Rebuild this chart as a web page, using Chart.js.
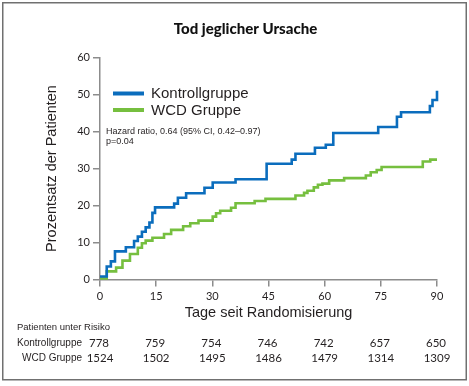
<!DOCTYPE html>
<html>
<head>
<meta charset="utf-8">
<script src="https://cdn.jsdelivr.net/npm/chart.js@4/dist/chart.umd.min.js"></script>
<style>
  html, body { margin: 0; padding: 0; background: #fff; }
</style>
</head>
<body>
<canvas id="kmChart" width="469" height="386"></canvas>
<script>
// Kaplan-Meier steps: day of the step, value after it (%)
const kontrollTage = [0, 1.8, 2.9, 4, 6.9, 9.1, 10.1, 11.2, 12.2, 13.2, 14, 14.7, 19.8, 20.8, 23, 27.9, 30.1, 36.2, 44.5, 51.2, 52.2, 57.4, 60.3, 62.3, 74.3, 79.3, 80.4, 88.1, 88.8, 90];
const kontrollWerte = [0.8, 3.5, 4.9, 7.6, 8.7, 10.4, 11.6, 12.9, 14.1, 15.4, 18, 19.5, 20.5, 22.1, 23.3, 24.8, 26.2, 27.1, 31.3, 32.4, 34, 35.6, 36.4, 39.6, 41.2, 44, 45.2, 46.9, 48.5, 51];
const wcdTage = [0, 1.8, 4.3, 6, 8, 10.1, 11.2, 12.2, 14, 17.1, 19, 22.2, 24.1, 26.3, 30.1, 31, 32.1, 35, 36.2, 41.3, 44.2, 52.2, 54.5, 55.4, 57.1, 58.2, 59.4, 61.2, 65.2, 71, 72.3, 73.9, 75.2, 86.2, 88.2, 90];
const wcdWerte = [0.3, 2.2, 3.2, 5.1, 6.9, 8.6, 9.8, 10.5, 11.3, 12.3, 13.4, 14.4, 15.2, 15.9, 17, 17.9, 18.6, 19.4, 20.6, 21.2, 21.8, 22.7, 23.4, 24, 24.9, 25.6, 25.9, 26.8, 27.4, 28.1, 29, 29.6, 30.4, 31.9, 32.4, 32.4];

const gruppen = ['Kontrollgruppe', 'WCD Gruppe'];
const farben = ['#0b6dbd', '#76bf3f'];
const risikoTage = [0, 15, 30, 45, 60, 75, 90];
const risikoKontroll = [778, 759, 754, 746, 742, 657, 650];
const risikoWcd = [1524, 1502, 1495, 1486, 1479, 1314, 1309];

const txt = '#231f20';
const axisGray = '#8c8c8c';

function toPoints(tage, werte){
  let pts = [];
  for (let i=0;i<tage.length;i++) pts.push({x: tage[i], y: werte[i]});
  return pts;
}

// everything outside the axes: frame, title, legend, HR text, risk table
const extras = {
  id: 'extras',
  afterDraw(chart){
    const ctx = chart.ctx;
    const xs = chart.scales.x;
    ctx.save();
    ctx.strokeStyle = '#707070';
    ctx.lineWidth = 1.5;
    ctx.strokeRect(2.75, 2.75, 463.5, 377);

    ctx.fillStyle = '#111';
    ctx.textAlign = 'center';
    ctx.textBaseline = 'middle';
    ctx.font = '900 15px Lato';
    ctx.fillText('Tod jeglicher Ursache', 245.5, 29);

    // legend
    const ly = [93.5, 110];
    for (let i=0;i<gruppen.length;i++){
      ctx.strokeStyle = farben[i];
      ctx.lineWidth = 4;
      ctx.beginPath();
      ctx.moveTo(113, ly[i]);
      ctx.lineTo(144, ly[i]);
      ctx.stroke();
      ctx.fillStyle = txt;
      ctx.textAlign = 'left';
      ctx.font = '15px "Liberation Sans"';
      ctx.fillText(gruppen[i], 151, ly[i] + 0.5);
    }
    ctx.font = '9px "Liberation Sans"';
    ctx.fillText('Hazard ratio, 0.64 (95% CI, 0.42\u20130.97)', 106, 132);
    ctx.fillText('p=0.04', 106, 141.5);

    // patients at risk
    ctx.font = '9.5px "Liberation Sans"';
    ctx.fillText('Patienten unter Risiko', 17, 327);
    ctx.textAlign = 'right';
    ctx.font = '10px "Liberation Sans"';
    ctx.fillText(gruppen[0], 82, 343.5);
    ctx.fillText(gruppen[1], 82, 358.5);
    ctx.textAlign = 'center';
    ctx.font = '11.5px Lato';
    for (let i=0;i<risikoTage.length;i++){
      let px = xs.getPixelForValue(risikoTage[i]);
      ctx.fillText(String(risikoKontroll[i]), px - 1, 343.5);
      ctx.fillText(String(risikoWcd[i]), px, 358.5);
    }
    ctx.restore();
  }
};

new Chart('kmChart', {
  type: 'line',
  data: {
    datasets: [
      {label: gruppen[0], data: toPoints(kontrollTage, kontrollWerte), borderColor: farben[0], borderWidth: 2.6, stepped: 'before', pointRadius: 0, fill: false, clip: false, order: 1},
      {label: gruppen[1], data: toPoints(wcdTage, wcdWerte), borderColor: farben[1], borderWidth: 2.6, stepped: 'before', pointRadius: 0, fill: false, clip: false, order: 2}
    ]
  },
  options: {
    responsive: false,
    animation: false,
    layout: {padding: {left: 0, right: 32, top: 57.5, bottom: 64}},
    plugins: {legend: {display: false}, tooltip: {enabled: false}, title: {display: false}},
    scales: {
      x: {
        type: 'linear', min: 0, max: 90,
        ticks: {stepSize: 15, autoSkip: false, maxRotation: 0, padding: 3, color: txt, font: {family: 'Lato', size: 11}},
        grid: {drawOnChartArea: false, drawTicks: true, tickLength: 7, color: axisGray, lineWidth: 1.5},
        border: {display: true, color: axisGray, width: 1.5},
        title: {display: true, text: 'Tage seit Randomisierung', color: txt, font: {family: 'Liberation Sans', size: 14.5}, padding: {top: 0, bottom: 0.6}},
        afterFit: scale => { scale.height = 42.5; }
      },
      y: {
        min: 0, max: 60,
        ticks: {stepSize: 10, padding: 3, color: txt, font: {family: 'Lato', size: 11}},
        grid: {drawOnChartArea: false, drawTicks: true, tickLength: 7, color: axisGray, lineWidth: 1.5},
        border: {display: true, color: axisGray, width: 1.5},
        title: {display: true, text: 'Prozentsatz der Patienten', color: txt, font: {family: 'Liberation Sans', size: 14.5}, padding: {top: 43.3, bottom: 0}},
        afterFit: scale => { scale.width = 100; }
      }
    }
  },
  plugins: [extras]
});
</script>
</body>
</html>
